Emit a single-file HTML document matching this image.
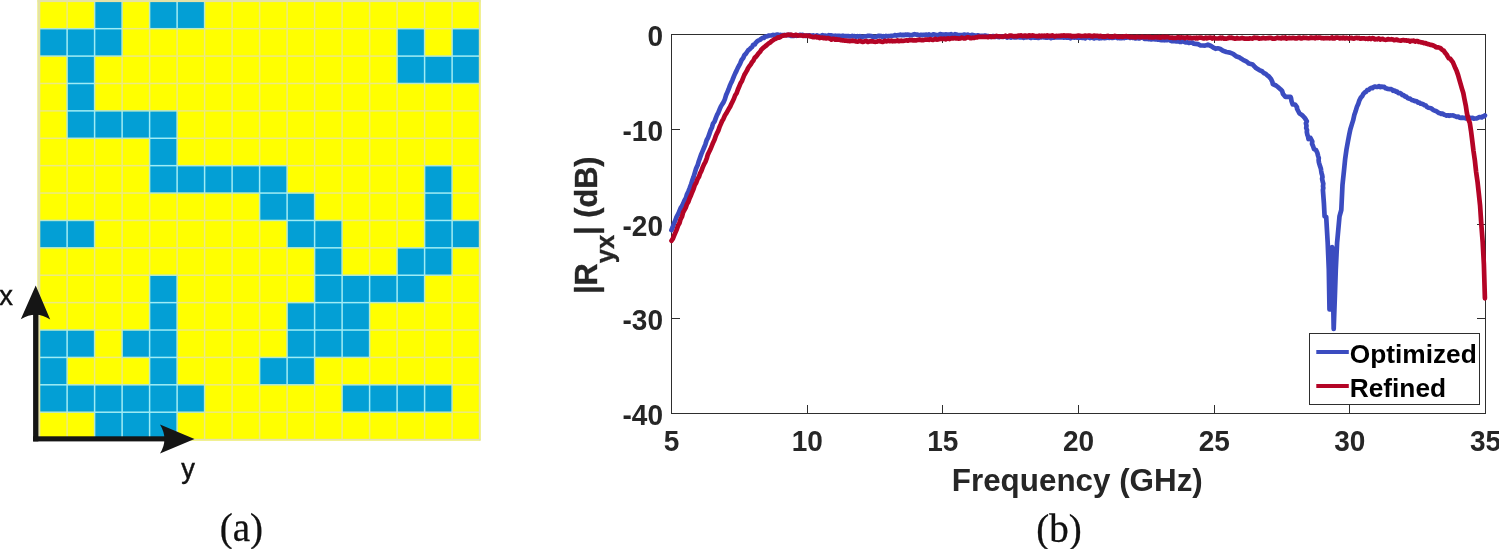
<!DOCTYPE html>
<html><head><meta charset="utf-8"><title>Figure</title>
<style>
html,body{margin:0;padding:0;background:#fff;}
body{width:1499px;height:549px;overflow:hidden;}
svg{display:block;}
.sans{font-family:"Liberation Sans",Arial,Helvetica,sans-serif;}
.serif{font-family:"Liberation Serif","Times New Roman",serif;}
.b{font-weight:bold;}
</style></head><body>
<svg width="1499" height="549" viewBox="0 0 1499 549">
<rect width="1499" height="549" fill="#fff"/>
<g shape-rendering="auto">
<rect x="37.60" y="0" width="442.90" height="440.50" fill="#ffff00"/>
<rect x="94.60" y="1.30" width="27.50" height="27.39" fill="#039fd5"/>
<rect x="149.60" y="1.30" width="27.50" height="27.39" fill="#039fd5"/>
<rect x="177.10" y="1.30" width="27.50" height="27.39" fill="#039fd5"/>
<rect x="39.60" y="28.69" width="27.50" height="27.39" fill="#039fd5"/>
<rect x="67.10" y="28.69" width="27.50" height="27.39" fill="#039fd5"/>
<rect x="94.60" y="28.69" width="27.50" height="27.39" fill="#039fd5"/>
<rect x="397.10" y="28.69" width="27.50" height="27.39" fill="#039fd5"/>
<rect x="452.10" y="28.69" width="27.50" height="27.39" fill="#039fd5"/>
<rect x="67.10" y="56.09" width="27.50" height="27.39" fill="#039fd5"/>
<rect x="397.10" y="56.09" width="27.50" height="27.39" fill="#039fd5"/>
<rect x="424.60" y="56.09" width="27.50" height="27.39" fill="#039fd5"/>
<rect x="452.10" y="56.09" width="27.50" height="27.39" fill="#039fd5"/>
<rect x="67.10" y="83.48" width="27.50" height="27.39" fill="#039fd5"/>
<rect x="67.10" y="110.88" width="27.50" height="27.39" fill="#039fd5"/>
<rect x="94.60" y="110.88" width="27.50" height="27.39" fill="#039fd5"/>
<rect x="122.10" y="110.88" width="27.50" height="27.39" fill="#039fd5"/>
<rect x="149.60" y="110.88" width="27.50" height="27.39" fill="#039fd5"/>
<rect x="149.60" y="138.27" width="27.50" height="27.39" fill="#039fd5"/>
<rect x="149.60" y="165.66" width="27.50" height="27.39" fill="#039fd5"/>
<rect x="177.10" y="165.66" width="27.50" height="27.39" fill="#039fd5"/>
<rect x="204.60" y="165.66" width="27.50" height="27.39" fill="#039fd5"/>
<rect x="232.10" y="165.66" width="27.50" height="27.39" fill="#039fd5"/>
<rect x="259.60" y="165.66" width="27.50" height="27.39" fill="#039fd5"/>
<rect x="424.60" y="165.66" width="27.50" height="27.39" fill="#039fd5"/>
<rect x="259.60" y="193.06" width="27.50" height="27.39" fill="#039fd5"/>
<rect x="287.10" y="193.06" width="27.50" height="27.39" fill="#039fd5"/>
<rect x="424.60" y="193.06" width="27.50" height="27.39" fill="#039fd5"/>
<rect x="39.60" y="220.45" width="27.50" height="27.39" fill="#039fd5"/>
<rect x="67.10" y="220.45" width="27.50" height="27.39" fill="#039fd5"/>
<rect x="287.10" y="220.45" width="27.50" height="27.39" fill="#039fd5"/>
<rect x="314.60" y="220.45" width="27.50" height="27.39" fill="#039fd5"/>
<rect x="424.60" y="220.45" width="27.50" height="27.39" fill="#039fd5"/>
<rect x="452.10" y="220.45" width="27.50" height="27.39" fill="#039fd5"/>
<rect x="314.60" y="247.84" width="27.50" height="27.39" fill="#039fd5"/>
<rect x="397.10" y="247.84" width="27.50" height="27.39" fill="#039fd5"/>
<rect x="424.60" y="247.84" width="27.50" height="27.39" fill="#039fd5"/>
<rect x="149.60" y="275.24" width="27.50" height="27.39" fill="#039fd5"/>
<rect x="314.60" y="275.24" width="27.50" height="27.39" fill="#039fd5"/>
<rect x="342.10" y="275.24" width="27.50" height="27.39" fill="#039fd5"/>
<rect x="369.60" y="275.24" width="27.50" height="27.39" fill="#039fd5"/>
<rect x="397.10" y="275.24" width="27.50" height="27.39" fill="#039fd5"/>
<rect x="149.60" y="302.63" width="27.50" height="27.39" fill="#039fd5"/>
<rect x="287.10" y="302.63" width="27.50" height="27.39" fill="#039fd5"/>
<rect x="314.60" y="302.63" width="27.50" height="27.39" fill="#039fd5"/>
<rect x="342.10" y="302.63" width="27.50" height="27.39" fill="#039fd5"/>
<rect x="39.60" y="330.03" width="27.50" height="27.39" fill="#039fd5"/>
<rect x="67.10" y="330.03" width="27.50" height="27.39" fill="#039fd5"/>
<rect x="122.10" y="330.03" width="27.50" height="27.39" fill="#039fd5"/>
<rect x="149.60" y="330.03" width="27.50" height="27.39" fill="#039fd5"/>
<rect x="287.10" y="330.03" width="27.50" height="27.39" fill="#039fd5"/>
<rect x="314.60" y="330.03" width="27.50" height="27.39" fill="#039fd5"/>
<rect x="342.10" y="330.03" width="27.50" height="27.39" fill="#039fd5"/>
<rect x="39.60" y="357.42" width="27.50" height="27.39" fill="#039fd5"/>
<rect x="149.60" y="357.42" width="27.50" height="27.39" fill="#039fd5"/>
<rect x="259.60" y="357.42" width="27.50" height="27.39" fill="#039fd5"/>
<rect x="287.10" y="357.42" width="27.50" height="27.39" fill="#039fd5"/>
<rect x="39.60" y="384.81" width="27.50" height="27.39" fill="#039fd5"/>
<rect x="67.10" y="384.81" width="27.50" height="27.39" fill="#039fd5"/>
<rect x="94.60" y="384.81" width="27.50" height="27.39" fill="#039fd5"/>
<rect x="122.10" y="384.81" width="27.50" height="27.39" fill="#039fd5"/>
<rect x="149.60" y="384.81" width="27.50" height="27.39" fill="#039fd5"/>
<rect x="177.10" y="384.81" width="27.50" height="27.39" fill="#039fd5"/>
<rect x="342.10" y="384.81" width="27.50" height="27.39" fill="#039fd5"/>
<rect x="369.60" y="384.81" width="27.50" height="27.39" fill="#039fd5"/>
<rect x="397.10" y="384.81" width="27.50" height="27.39" fill="#039fd5"/>
<rect x="424.60" y="384.81" width="27.50" height="27.39" fill="#039fd5"/>
<rect x="94.60" y="412.21" width="27.50" height="27.39" fill="#039fd5"/>
<rect x="122.10" y="412.21" width="27.50" height="27.39" fill="#039fd5"/>
<rect x="149.60" y="412.21" width="27.50" height="27.39" fill="#039fd5"/>
<rect x="66.35" y="1.30" width="1.5" height="27.39" fill="#ebe982"/>
<rect x="66.35" y="28.69" width="1.5" height="27.39" fill="#9fecf6"/>
<rect x="66.35" y="56.09" width="1.5" height="27.39" fill="#b9e8cc"/>
<rect x="66.35" y="83.48" width="1.5" height="27.39" fill="#b9e8cc"/>
<rect x="66.35" y="110.88" width="1.5" height="27.39" fill="#b9e8cc"/>
<rect x="66.35" y="138.27" width="1.5" height="27.39" fill="#ebe982"/>
<rect x="66.35" y="165.66" width="1.5" height="27.39" fill="#ebe982"/>
<rect x="66.35" y="193.06" width="1.5" height="27.39" fill="#ebe982"/>
<rect x="66.35" y="220.45" width="1.5" height="27.39" fill="#9fecf6"/>
<rect x="66.35" y="247.84" width="1.5" height="27.39" fill="#ebe982"/>
<rect x="66.35" y="275.24" width="1.5" height="27.39" fill="#ebe982"/>
<rect x="66.35" y="302.63" width="1.5" height="27.39" fill="#ebe982"/>
<rect x="66.35" y="330.03" width="1.5" height="27.39" fill="#9fecf6"/>
<rect x="66.35" y="357.42" width="1.5" height="27.39" fill="#b9e8cc"/>
<rect x="66.35" y="384.81" width="1.5" height="27.39" fill="#9fecf6"/>
<rect x="66.35" y="412.21" width="1.5" height="27.39" fill="#ebe982"/>
<rect x="93.85" y="1.30" width="1.5" height="27.39" fill="#b9e8cc"/>
<rect x="93.85" y="28.69" width="1.5" height="27.39" fill="#9fecf6"/>
<rect x="93.85" y="56.09" width="1.5" height="27.39" fill="#b9e8cc"/>
<rect x="93.85" y="83.48" width="1.5" height="27.39" fill="#b9e8cc"/>
<rect x="93.85" y="110.88" width="1.5" height="27.39" fill="#9fecf6"/>
<rect x="93.85" y="138.27" width="1.5" height="27.39" fill="#ebe982"/>
<rect x="93.85" y="165.66" width="1.5" height="27.39" fill="#ebe982"/>
<rect x="93.85" y="193.06" width="1.5" height="27.39" fill="#ebe982"/>
<rect x="93.85" y="220.45" width="1.5" height="27.39" fill="#b9e8cc"/>
<rect x="93.85" y="247.84" width="1.5" height="27.39" fill="#ebe982"/>
<rect x="93.85" y="275.24" width="1.5" height="27.39" fill="#ebe982"/>
<rect x="93.85" y="302.63" width="1.5" height="27.39" fill="#ebe982"/>
<rect x="93.85" y="330.03" width="1.5" height="27.39" fill="#b9e8cc"/>
<rect x="93.85" y="357.42" width="1.5" height="27.39" fill="#ebe982"/>
<rect x="93.85" y="384.81" width="1.5" height="27.39" fill="#9fecf6"/>
<rect x="93.85" y="412.21" width="1.5" height="27.39" fill="#b9e8cc"/>
<rect x="121.35" y="1.30" width="1.5" height="27.39" fill="#b9e8cc"/>
<rect x="121.35" y="28.69" width="1.5" height="27.39" fill="#b9e8cc"/>
<rect x="121.35" y="56.09" width="1.5" height="27.39" fill="#ebe982"/>
<rect x="121.35" y="83.48" width="1.5" height="27.39" fill="#ebe982"/>
<rect x="121.35" y="110.88" width="1.5" height="27.39" fill="#9fecf6"/>
<rect x="121.35" y="138.27" width="1.5" height="27.39" fill="#ebe982"/>
<rect x="121.35" y="165.66" width="1.5" height="27.39" fill="#ebe982"/>
<rect x="121.35" y="193.06" width="1.5" height="27.39" fill="#ebe982"/>
<rect x="121.35" y="220.45" width="1.5" height="27.39" fill="#ebe982"/>
<rect x="121.35" y="247.84" width="1.5" height="27.39" fill="#ebe982"/>
<rect x="121.35" y="275.24" width="1.5" height="27.39" fill="#ebe982"/>
<rect x="121.35" y="302.63" width="1.5" height="27.39" fill="#ebe982"/>
<rect x="121.35" y="330.03" width="1.5" height="27.39" fill="#b9e8cc"/>
<rect x="121.35" y="357.42" width="1.5" height="27.39" fill="#ebe982"/>
<rect x="121.35" y="384.81" width="1.5" height="27.39" fill="#9fecf6"/>
<rect x="121.35" y="412.21" width="1.5" height="27.39" fill="#9fecf6"/>
<rect x="148.85" y="1.30" width="1.5" height="27.39" fill="#b9e8cc"/>
<rect x="148.85" y="28.69" width="1.5" height="27.39" fill="#ebe982"/>
<rect x="148.85" y="56.09" width="1.5" height="27.39" fill="#ebe982"/>
<rect x="148.85" y="83.48" width="1.5" height="27.39" fill="#ebe982"/>
<rect x="148.85" y="110.88" width="1.5" height="27.39" fill="#9fecf6"/>
<rect x="148.85" y="138.27" width="1.5" height="27.39" fill="#b9e8cc"/>
<rect x="148.85" y="165.66" width="1.5" height="27.39" fill="#b9e8cc"/>
<rect x="148.85" y="193.06" width="1.5" height="27.39" fill="#ebe982"/>
<rect x="148.85" y="220.45" width="1.5" height="27.39" fill="#ebe982"/>
<rect x="148.85" y="247.84" width="1.5" height="27.39" fill="#ebe982"/>
<rect x="148.85" y="275.24" width="1.5" height="27.39" fill="#b9e8cc"/>
<rect x="148.85" y="302.63" width="1.5" height="27.39" fill="#b9e8cc"/>
<rect x="148.85" y="330.03" width="1.5" height="27.39" fill="#9fecf6"/>
<rect x="148.85" y="357.42" width="1.5" height="27.39" fill="#b9e8cc"/>
<rect x="148.85" y="384.81" width="1.5" height="27.39" fill="#9fecf6"/>
<rect x="148.85" y="412.21" width="1.5" height="27.39" fill="#9fecf6"/>
<rect x="176.35" y="1.30" width="1.5" height="27.39" fill="#9fecf6"/>
<rect x="176.35" y="28.69" width="1.5" height="27.39" fill="#ebe982"/>
<rect x="176.35" y="56.09" width="1.5" height="27.39" fill="#ebe982"/>
<rect x="176.35" y="83.48" width="1.5" height="27.39" fill="#ebe982"/>
<rect x="176.35" y="110.88" width="1.5" height="27.39" fill="#b9e8cc"/>
<rect x="176.35" y="138.27" width="1.5" height="27.39" fill="#b9e8cc"/>
<rect x="176.35" y="165.66" width="1.5" height="27.39" fill="#9fecf6"/>
<rect x="176.35" y="193.06" width="1.5" height="27.39" fill="#ebe982"/>
<rect x="176.35" y="220.45" width="1.5" height="27.39" fill="#ebe982"/>
<rect x="176.35" y="247.84" width="1.5" height="27.39" fill="#ebe982"/>
<rect x="176.35" y="275.24" width="1.5" height="27.39" fill="#b9e8cc"/>
<rect x="176.35" y="302.63" width="1.5" height="27.39" fill="#b9e8cc"/>
<rect x="176.35" y="330.03" width="1.5" height="27.39" fill="#b9e8cc"/>
<rect x="176.35" y="357.42" width="1.5" height="27.39" fill="#b9e8cc"/>
<rect x="176.35" y="384.81" width="1.5" height="27.39" fill="#9fecf6"/>
<rect x="176.35" y="412.21" width="1.5" height="27.39" fill="#b9e8cc"/>
<rect x="203.85" y="1.30" width="1.5" height="27.39" fill="#b9e8cc"/>
<rect x="203.85" y="28.69" width="1.5" height="27.39" fill="#ebe982"/>
<rect x="203.85" y="56.09" width="1.5" height="27.39" fill="#ebe982"/>
<rect x="203.85" y="83.48" width="1.5" height="27.39" fill="#ebe982"/>
<rect x="203.85" y="110.88" width="1.5" height="27.39" fill="#ebe982"/>
<rect x="203.85" y="138.27" width="1.5" height="27.39" fill="#ebe982"/>
<rect x="203.85" y="165.66" width="1.5" height="27.39" fill="#9fecf6"/>
<rect x="203.85" y="193.06" width="1.5" height="27.39" fill="#ebe982"/>
<rect x="203.85" y="220.45" width="1.5" height="27.39" fill="#ebe982"/>
<rect x="203.85" y="247.84" width="1.5" height="27.39" fill="#ebe982"/>
<rect x="203.85" y="275.24" width="1.5" height="27.39" fill="#ebe982"/>
<rect x="203.85" y="302.63" width="1.5" height="27.39" fill="#ebe982"/>
<rect x="203.85" y="330.03" width="1.5" height="27.39" fill="#ebe982"/>
<rect x="203.85" y="357.42" width="1.5" height="27.39" fill="#ebe982"/>
<rect x="203.85" y="384.81" width="1.5" height="27.39" fill="#b9e8cc"/>
<rect x="203.85" y="412.21" width="1.5" height="27.39" fill="#ebe982"/>
<rect x="231.35" y="1.30" width="1.5" height="27.39" fill="#ebe982"/>
<rect x="231.35" y="28.69" width="1.5" height="27.39" fill="#ebe982"/>
<rect x="231.35" y="56.09" width="1.5" height="27.39" fill="#ebe982"/>
<rect x="231.35" y="83.48" width="1.5" height="27.39" fill="#ebe982"/>
<rect x="231.35" y="110.88" width="1.5" height="27.39" fill="#ebe982"/>
<rect x="231.35" y="138.27" width="1.5" height="27.39" fill="#ebe982"/>
<rect x="231.35" y="165.66" width="1.5" height="27.39" fill="#9fecf6"/>
<rect x="231.35" y="193.06" width="1.5" height="27.39" fill="#ebe982"/>
<rect x="231.35" y="220.45" width="1.5" height="27.39" fill="#ebe982"/>
<rect x="231.35" y="247.84" width="1.5" height="27.39" fill="#ebe982"/>
<rect x="231.35" y="275.24" width="1.5" height="27.39" fill="#ebe982"/>
<rect x="231.35" y="302.63" width="1.5" height="27.39" fill="#ebe982"/>
<rect x="231.35" y="330.03" width="1.5" height="27.39" fill="#ebe982"/>
<rect x="231.35" y="357.42" width="1.5" height="27.39" fill="#ebe982"/>
<rect x="231.35" y="384.81" width="1.5" height="27.39" fill="#ebe982"/>
<rect x="231.35" y="412.21" width="1.5" height="27.39" fill="#ebe982"/>
<rect x="258.85" y="1.30" width="1.5" height="27.39" fill="#ebe982"/>
<rect x="258.85" y="28.69" width="1.5" height="27.39" fill="#ebe982"/>
<rect x="258.85" y="56.09" width="1.5" height="27.39" fill="#ebe982"/>
<rect x="258.85" y="83.48" width="1.5" height="27.39" fill="#ebe982"/>
<rect x="258.85" y="110.88" width="1.5" height="27.39" fill="#ebe982"/>
<rect x="258.85" y="138.27" width="1.5" height="27.39" fill="#ebe982"/>
<rect x="258.85" y="165.66" width="1.5" height="27.39" fill="#9fecf6"/>
<rect x="258.85" y="193.06" width="1.5" height="27.39" fill="#b9e8cc"/>
<rect x="258.85" y="220.45" width="1.5" height="27.39" fill="#ebe982"/>
<rect x="258.85" y="247.84" width="1.5" height="27.39" fill="#ebe982"/>
<rect x="258.85" y="275.24" width="1.5" height="27.39" fill="#ebe982"/>
<rect x="258.85" y="302.63" width="1.5" height="27.39" fill="#ebe982"/>
<rect x="258.85" y="330.03" width="1.5" height="27.39" fill="#ebe982"/>
<rect x="258.85" y="357.42" width="1.5" height="27.39" fill="#b9e8cc"/>
<rect x="258.85" y="384.81" width="1.5" height="27.39" fill="#ebe982"/>
<rect x="258.85" y="412.21" width="1.5" height="27.39" fill="#ebe982"/>
<rect x="286.35" y="1.30" width="1.5" height="27.39" fill="#ebe982"/>
<rect x="286.35" y="28.69" width="1.5" height="27.39" fill="#ebe982"/>
<rect x="286.35" y="56.09" width="1.5" height="27.39" fill="#ebe982"/>
<rect x="286.35" y="83.48" width="1.5" height="27.39" fill="#ebe982"/>
<rect x="286.35" y="110.88" width="1.5" height="27.39" fill="#ebe982"/>
<rect x="286.35" y="138.27" width="1.5" height="27.39" fill="#ebe982"/>
<rect x="286.35" y="165.66" width="1.5" height="27.39" fill="#b9e8cc"/>
<rect x="286.35" y="193.06" width="1.5" height="27.39" fill="#9fecf6"/>
<rect x="286.35" y="220.45" width="1.5" height="27.39" fill="#b9e8cc"/>
<rect x="286.35" y="247.84" width="1.5" height="27.39" fill="#ebe982"/>
<rect x="286.35" y="275.24" width="1.5" height="27.39" fill="#ebe982"/>
<rect x="286.35" y="302.63" width="1.5" height="27.39" fill="#b9e8cc"/>
<rect x="286.35" y="330.03" width="1.5" height="27.39" fill="#b9e8cc"/>
<rect x="286.35" y="357.42" width="1.5" height="27.39" fill="#9fecf6"/>
<rect x="286.35" y="384.81" width="1.5" height="27.39" fill="#ebe982"/>
<rect x="286.35" y="412.21" width="1.5" height="27.39" fill="#ebe982"/>
<rect x="313.85" y="1.30" width="1.5" height="27.39" fill="#ebe982"/>
<rect x="313.85" y="28.69" width="1.5" height="27.39" fill="#ebe982"/>
<rect x="313.85" y="56.09" width="1.5" height="27.39" fill="#ebe982"/>
<rect x="313.85" y="83.48" width="1.5" height="27.39" fill="#ebe982"/>
<rect x="313.85" y="110.88" width="1.5" height="27.39" fill="#ebe982"/>
<rect x="313.85" y="138.27" width="1.5" height="27.39" fill="#ebe982"/>
<rect x="313.85" y="165.66" width="1.5" height="27.39" fill="#ebe982"/>
<rect x="313.85" y="193.06" width="1.5" height="27.39" fill="#b9e8cc"/>
<rect x="313.85" y="220.45" width="1.5" height="27.39" fill="#9fecf6"/>
<rect x="313.85" y="247.84" width="1.5" height="27.39" fill="#b9e8cc"/>
<rect x="313.85" y="275.24" width="1.5" height="27.39" fill="#b9e8cc"/>
<rect x="313.85" y="302.63" width="1.5" height="27.39" fill="#9fecf6"/>
<rect x="313.85" y="330.03" width="1.5" height="27.39" fill="#9fecf6"/>
<rect x="313.85" y="357.42" width="1.5" height="27.39" fill="#b9e8cc"/>
<rect x="313.85" y="384.81" width="1.5" height="27.39" fill="#ebe982"/>
<rect x="313.85" y="412.21" width="1.5" height="27.39" fill="#ebe982"/>
<rect x="341.35" y="1.30" width="1.5" height="27.39" fill="#ebe982"/>
<rect x="341.35" y="28.69" width="1.5" height="27.39" fill="#ebe982"/>
<rect x="341.35" y="56.09" width="1.5" height="27.39" fill="#ebe982"/>
<rect x="341.35" y="83.48" width="1.5" height="27.39" fill="#ebe982"/>
<rect x="341.35" y="110.88" width="1.5" height="27.39" fill="#ebe982"/>
<rect x="341.35" y="138.27" width="1.5" height="27.39" fill="#ebe982"/>
<rect x="341.35" y="165.66" width="1.5" height="27.39" fill="#ebe982"/>
<rect x="341.35" y="193.06" width="1.5" height="27.39" fill="#ebe982"/>
<rect x="341.35" y="220.45" width="1.5" height="27.39" fill="#b9e8cc"/>
<rect x="341.35" y="247.84" width="1.5" height="27.39" fill="#b9e8cc"/>
<rect x="341.35" y="275.24" width="1.5" height="27.39" fill="#9fecf6"/>
<rect x="341.35" y="302.63" width="1.5" height="27.39" fill="#9fecf6"/>
<rect x="341.35" y="330.03" width="1.5" height="27.39" fill="#9fecf6"/>
<rect x="341.35" y="357.42" width="1.5" height="27.39" fill="#ebe982"/>
<rect x="341.35" y="384.81" width="1.5" height="27.39" fill="#b9e8cc"/>
<rect x="341.35" y="412.21" width="1.5" height="27.39" fill="#ebe982"/>
<rect x="368.85" y="1.30" width="1.5" height="27.39" fill="#ebe982"/>
<rect x="368.85" y="28.69" width="1.5" height="27.39" fill="#ebe982"/>
<rect x="368.85" y="56.09" width="1.5" height="27.39" fill="#ebe982"/>
<rect x="368.85" y="83.48" width="1.5" height="27.39" fill="#ebe982"/>
<rect x="368.85" y="110.88" width="1.5" height="27.39" fill="#ebe982"/>
<rect x="368.85" y="138.27" width="1.5" height="27.39" fill="#ebe982"/>
<rect x="368.85" y="165.66" width="1.5" height="27.39" fill="#ebe982"/>
<rect x="368.85" y="193.06" width="1.5" height="27.39" fill="#ebe982"/>
<rect x="368.85" y="220.45" width="1.5" height="27.39" fill="#ebe982"/>
<rect x="368.85" y="247.84" width="1.5" height="27.39" fill="#ebe982"/>
<rect x="368.85" y="275.24" width="1.5" height="27.39" fill="#9fecf6"/>
<rect x="368.85" y="302.63" width="1.5" height="27.39" fill="#b9e8cc"/>
<rect x="368.85" y="330.03" width="1.5" height="27.39" fill="#b9e8cc"/>
<rect x="368.85" y="357.42" width="1.5" height="27.39" fill="#ebe982"/>
<rect x="368.85" y="384.81" width="1.5" height="27.39" fill="#9fecf6"/>
<rect x="368.85" y="412.21" width="1.5" height="27.39" fill="#ebe982"/>
<rect x="396.35" y="1.30" width="1.5" height="27.39" fill="#ebe982"/>
<rect x="396.35" y="28.69" width="1.5" height="27.39" fill="#b9e8cc"/>
<rect x="396.35" y="56.09" width="1.5" height="27.39" fill="#b9e8cc"/>
<rect x="396.35" y="83.48" width="1.5" height="27.39" fill="#ebe982"/>
<rect x="396.35" y="110.88" width="1.5" height="27.39" fill="#ebe982"/>
<rect x="396.35" y="138.27" width="1.5" height="27.39" fill="#ebe982"/>
<rect x="396.35" y="165.66" width="1.5" height="27.39" fill="#ebe982"/>
<rect x="396.35" y="193.06" width="1.5" height="27.39" fill="#ebe982"/>
<rect x="396.35" y="220.45" width="1.5" height="27.39" fill="#ebe982"/>
<rect x="396.35" y="247.84" width="1.5" height="27.39" fill="#b9e8cc"/>
<rect x="396.35" y="275.24" width="1.5" height="27.39" fill="#9fecf6"/>
<rect x="396.35" y="302.63" width="1.5" height="27.39" fill="#ebe982"/>
<rect x="396.35" y="330.03" width="1.5" height="27.39" fill="#ebe982"/>
<rect x="396.35" y="357.42" width="1.5" height="27.39" fill="#ebe982"/>
<rect x="396.35" y="384.81" width="1.5" height="27.39" fill="#9fecf6"/>
<rect x="396.35" y="412.21" width="1.5" height="27.39" fill="#ebe982"/>
<rect x="423.85" y="1.30" width="1.5" height="27.39" fill="#ebe982"/>
<rect x="423.85" y="28.69" width="1.5" height="27.39" fill="#b9e8cc"/>
<rect x="423.85" y="56.09" width="1.5" height="27.39" fill="#9fecf6"/>
<rect x="423.85" y="83.48" width="1.5" height="27.39" fill="#ebe982"/>
<rect x="423.85" y="110.88" width="1.5" height="27.39" fill="#ebe982"/>
<rect x="423.85" y="138.27" width="1.5" height="27.39" fill="#ebe982"/>
<rect x="423.85" y="165.66" width="1.5" height="27.39" fill="#b9e8cc"/>
<rect x="423.85" y="193.06" width="1.5" height="27.39" fill="#b9e8cc"/>
<rect x="423.85" y="220.45" width="1.5" height="27.39" fill="#b9e8cc"/>
<rect x="423.85" y="247.84" width="1.5" height="27.39" fill="#9fecf6"/>
<rect x="423.85" y="275.24" width="1.5" height="27.39" fill="#b9e8cc"/>
<rect x="423.85" y="302.63" width="1.5" height="27.39" fill="#ebe982"/>
<rect x="423.85" y="330.03" width="1.5" height="27.39" fill="#ebe982"/>
<rect x="423.85" y="357.42" width="1.5" height="27.39" fill="#ebe982"/>
<rect x="423.85" y="384.81" width="1.5" height="27.39" fill="#9fecf6"/>
<rect x="423.85" y="412.21" width="1.5" height="27.39" fill="#ebe982"/>
<rect x="451.35" y="1.30" width="1.5" height="27.39" fill="#ebe982"/>
<rect x="451.35" y="28.69" width="1.5" height="27.39" fill="#b9e8cc"/>
<rect x="451.35" y="56.09" width="1.5" height="27.39" fill="#9fecf6"/>
<rect x="451.35" y="83.48" width="1.5" height="27.39" fill="#ebe982"/>
<rect x="451.35" y="110.88" width="1.5" height="27.39" fill="#ebe982"/>
<rect x="451.35" y="138.27" width="1.5" height="27.39" fill="#ebe982"/>
<rect x="451.35" y="165.66" width="1.5" height="27.39" fill="#b9e8cc"/>
<rect x="451.35" y="193.06" width="1.5" height="27.39" fill="#b9e8cc"/>
<rect x="451.35" y="220.45" width="1.5" height="27.39" fill="#9fecf6"/>
<rect x="451.35" y="247.84" width="1.5" height="27.39" fill="#b9e8cc"/>
<rect x="451.35" y="275.24" width="1.5" height="27.39" fill="#ebe982"/>
<rect x="451.35" y="302.63" width="1.5" height="27.39" fill="#ebe982"/>
<rect x="451.35" y="330.03" width="1.5" height="27.39" fill="#ebe982"/>
<rect x="451.35" y="357.42" width="1.5" height="27.39" fill="#ebe982"/>
<rect x="451.35" y="384.81" width="1.5" height="27.39" fill="#b9e8cc"/>
<rect x="451.35" y="412.21" width="1.5" height="27.39" fill="#ebe982"/>
<rect x="39.60" y="27.94" width="27.50" height="1.5" fill="#b9e8cc"/>
<rect x="67.10" y="27.94" width="27.50" height="1.5" fill="#b9e8cc"/>
<rect x="94.60" y="27.94" width="27.50" height="1.5" fill="#9fecf6"/>
<rect x="122.10" y="27.94" width="27.50" height="1.5" fill="#ebe982"/>
<rect x="149.60" y="27.94" width="27.50" height="1.5" fill="#b9e8cc"/>
<rect x="177.10" y="27.94" width="27.50" height="1.5" fill="#b9e8cc"/>
<rect x="204.60" y="27.94" width="27.50" height="1.5" fill="#ebe982"/>
<rect x="232.10" y="27.94" width="27.50" height="1.5" fill="#ebe982"/>
<rect x="259.60" y="27.94" width="27.50" height="1.5" fill="#ebe982"/>
<rect x="287.10" y="27.94" width="27.50" height="1.5" fill="#ebe982"/>
<rect x="314.60" y="27.94" width="27.50" height="1.5" fill="#ebe982"/>
<rect x="342.10" y="27.94" width="27.50" height="1.5" fill="#ebe982"/>
<rect x="369.60" y="27.94" width="27.50" height="1.5" fill="#ebe982"/>
<rect x="397.10" y="27.94" width="27.50" height="1.5" fill="#b9e8cc"/>
<rect x="424.60" y="27.94" width="27.50" height="1.5" fill="#ebe982"/>
<rect x="452.10" y="27.94" width="27.50" height="1.5" fill="#b9e8cc"/>
<rect x="39.60" y="55.34" width="27.50" height="1.5" fill="#b9e8cc"/>
<rect x="67.10" y="55.34" width="27.50" height="1.5" fill="#9fecf6"/>
<rect x="94.60" y="55.34" width="27.50" height="1.5" fill="#b9e8cc"/>
<rect x="122.10" y="55.34" width="27.50" height="1.5" fill="#ebe982"/>
<rect x="149.60" y="55.34" width="27.50" height="1.5" fill="#ebe982"/>
<rect x="177.10" y="55.34" width="27.50" height="1.5" fill="#ebe982"/>
<rect x="204.60" y="55.34" width="27.50" height="1.5" fill="#ebe982"/>
<rect x="232.10" y="55.34" width="27.50" height="1.5" fill="#ebe982"/>
<rect x="259.60" y="55.34" width="27.50" height="1.5" fill="#ebe982"/>
<rect x="287.10" y="55.34" width="27.50" height="1.5" fill="#ebe982"/>
<rect x="314.60" y="55.34" width="27.50" height="1.5" fill="#ebe982"/>
<rect x="342.10" y="55.34" width="27.50" height="1.5" fill="#ebe982"/>
<rect x="369.60" y="55.34" width="27.50" height="1.5" fill="#ebe982"/>
<rect x="397.10" y="55.34" width="27.50" height="1.5" fill="#9fecf6"/>
<rect x="424.60" y="55.34" width="27.50" height="1.5" fill="#b9e8cc"/>
<rect x="452.10" y="55.34" width="27.50" height="1.5" fill="#9fecf6"/>
<rect x="39.60" y="82.73" width="27.50" height="1.5" fill="#ebe982"/>
<rect x="67.10" y="82.73" width="27.50" height="1.5" fill="#9fecf6"/>
<rect x="94.60" y="82.73" width="27.50" height="1.5" fill="#ebe982"/>
<rect x="122.10" y="82.73" width="27.50" height="1.5" fill="#ebe982"/>
<rect x="149.60" y="82.73" width="27.50" height="1.5" fill="#ebe982"/>
<rect x="177.10" y="82.73" width="27.50" height="1.5" fill="#ebe982"/>
<rect x="204.60" y="82.73" width="27.50" height="1.5" fill="#ebe982"/>
<rect x="232.10" y="82.73" width="27.50" height="1.5" fill="#ebe982"/>
<rect x="259.60" y="82.73" width="27.50" height="1.5" fill="#ebe982"/>
<rect x="287.10" y="82.73" width="27.50" height="1.5" fill="#ebe982"/>
<rect x="314.60" y="82.73" width="27.50" height="1.5" fill="#ebe982"/>
<rect x="342.10" y="82.73" width="27.50" height="1.5" fill="#ebe982"/>
<rect x="369.60" y="82.73" width="27.50" height="1.5" fill="#ebe982"/>
<rect x="397.10" y="82.73" width="27.50" height="1.5" fill="#b9e8cc"/>
<rect x="424.60" y="82.73" width="27.50" height="1.5" fill="#b9e8cc"/>
<rect x="452.10" y="82.73" width="27.50" height="1.5" fill="#b9e8cc"/>
<rect x="39.60" y="110.12" width="27.50" height="1.5" fill="#ebe982"/>
<rect x="67.10" y="110.12" width="27.50" height="1.5" fill="#9fecf6"/>
<rect x="94.60" y="110.12" width="27.50" height="1.5" fill="#b9e8cc"/>
<rect x="122.10" y="110.12" width="27.50" height="1.5" fill="#b9e8cc"/>
<rect x="149.60" y="110.12" width="27.50" height="1.5" fill="#b9e8cc"/>
<rect x="177.10" y="110.12" width="27.50" height="1.5" fill="#ebe982"/>
<rect x="204.60" y="110.12" width="27.50" height="1.5" fill="#ebe982"/>
<rect x="232.10" y="110.12" width="27.50" height="1.5" fill="#ebe982"/>
<rect x="259.60" y="110.12" width="27.50" height="1.5" fill="#ebe982"/>
<rect x="287.10" y="110.12" width="27.50" height="1.5" fill="#ebe982"/>
<rect x="314.60" y="110.12" width="27.50" height="1.5" fill="#ebe982"/>
<rect x="342.10" y="110.12" width="27.50" height="1.5" fill="#ebe982"/>
<rect x="369.60" y="110.12" width="27.50" height="1.5" fill="#ebe982"/>
<rect x="397.10" y="110.12" width="27.50" height="1.5" fill="#ebe982"/>
<rect x="424.60" y="110.12" width="27.50" height="1.5" fill="#ebe982"/>
<rect x="452.10" y="110.12" width="27.50" height="1.5" fill="#ebe982"/>
<rect x="39.60" y="137.52" width="27.50" height="1.5" fill="#ebe982"/>
<rect x="67.10" y="137.52" width="27.50" height="1.5" fill="#b9e8cc"/>
<rect x="94.60" y="137.52" width="27.50" height="1.5" fill="#b9e8cc"/>
<rect x="122.10" y="137.52" width="27.50" height="1.5" fill="#b9e8cc"/>
<rect x="149.60" y="137.52" width="27.50" height="1.5" fill="#9fecf6"/>
<rect x="177.10" y="137.52" width="27.50" height="1.5" fill="#ebe982"/>
<rect x="204.60" y="137.52" width="27.50" height="1.5" fill="#ebe982"/>
<rect x="232.10" y="137.52" width="27.50" height="1.5" fill="#ebe982"/>
<rect x="259.60" y="137.52" width="27.50" height="1.5" fill="#ebe982"/>
<rect x="287.10" y="137.52" width="27.50" height="1.5" fill="#ebe982"/>
<rect x="314.60" y="137.52" width="27.50" height="1.5" fill="#ebe982"/>
<rect x="342.10" y="137.52" width="27.50" height="1.5" fill="#ebe982"/>
<rect x="369.60" y="137.52" width="27.50" height="1.5" fill="#ebe982"/>
<rect x="397.10" y="137.52" width="27.50" height="1.5" fill="#ebe982"/>
<rect x="424.60" y="137.52" width="27.50" height="1.5" fill="#ebe982"/>
<rect x="452.10" y="137.52" width="27.50" height="1.5" fill="#ebe982"/>
<rect x="39.60" y="164.91" width="27.50" height="1.5" fill="#ebe982"/>
<rect x="67.10" y="164.91" width="27.50" height="1.5" fill="#ebe982"/>
<rect x="94.60" y="164.91" width="27.50" height="1.5" fill="#ebe982"/>
<rect x="122.10" y="164.91" width="27.50" height="1.5" fill="#ebe982"/>
<rect x="149.60" y="164.91" width="27.50" height="1.5" fill="#9fecf6"/>
<rect x="177.10" y="164.91" width="27.50" height="1.5" fill="#b9e8cc"/>
<rect x="204.60" y="164.91" width="27.50" height="1.5" fill="#b9e8cc"/>
<rect x="232.10" y="164.91" width="27.50" height="1.5" fill="#b9e8cc"/>
<rect x="259.60" y="164.91" width="27.50" height="1.5" fill="#b9e8cc"/>
<rect x="287.10" y="164.91" width="27.50" height="1.5" fill="#ebe982"/>
<rect x="314.60" y="164.91" width="27.50" height="1.5" fill="#ebe982"/>
<rect x="342.10" y="164.91" width="27.50" height="1.5" fill="#ebe982"/>
<rect x="369.60" y="164.91" width="27.50" height="1.5" fill="#ebe982"/>
<rect x="397.10" y="164.91" width="27.50" height="1.5" fill="#ebe982"/>
<rect x="424.60" y="164.91" width="27.50" height="1.5" fill="#b9e8cc"/>
<rect x="452.10" y="164.91" width="27.50" height="1.5" fill="#ebe982"/>
<rect x="39.60" y="192.31" width="27.50" height="1.5" fill="#ebe982"/>
<rect x="67.10" y="192.31" width="27.50" height="1.5" fill="#ebe982"/>
<rect x="94.60" y="192.31" width="27.50" height="1.5" fill="#ebe982"/>
<rect x="122.10" y="192.31" width="27.50" height="1.5" fill="#ebe982"/>
<rect x="149.60" y="192.31" width="27.50" height="1.5" fill="#b9e8cc"/>
<rect x="177.10" y="192.31" width="27.50" height="1.5" fill="#b9e8cc"/>
<rect x="204.60" y="192.31" width="27.50" height="1.5" fill="#b9e8cc"/>
<rect x="232.10" y="192.31" width="27.50" height="1.5" fill="#b9e8cc"/>
<rect x="259.60" y="192.31" width="27.50" height="1.5" fill="#9fecf6"/>
<rect x="287.10" y="192.31" width="27.50" height="1.5" fill="#b9e8cc"/>
<rect x="314.60" y="192.31" width="27.50" height="1.5" fill="#ebe982"/>
<rect x="342.10" y="192.31" width="27.50" height="1.5" fill="#ebe982"/>
<rect x="369.60" y="192.31" width="27.50" height="1.5" fill="#ebe982"/>
<rect x="397.10" y="192.31" width="27.50" height="1.5" fill="#ebe982"/>
<rect x="424.60" y="192.31" width="27.50" height="1.5" fill="#9fecf6"/>
<rect x="452.10" y="192.31" width="27.50" height="1.5" fill="#ebe982"/>
<rect x="39.60" y="219.70" width="27.50" height="1.5" fill="#b9e8cc"/>
<rect x="67.10" y="219.70" width="27.50" height="1.5" fill="#b9e8cc"/>
<rect x="94.60" y="219.70" width="27.50" height="1.5" fill="#ebe982"/>
<rect x="122.10" y="219.70" width="27.50" height="1.5" fill="#ebe982"/>
<rect x="149.60" y="219.70" width="27.50" height="1.5" fill="#ebe982"/>
<rect x="177.10" y="219.70" width="27.50" height="1.5" fill="#ebe982"/>
<rect x="204.60" y="219.70" width="27.50" height="1.5" fill="#ebe982"/>
<rect x="232.10" y="219.70" width="27.50" height="1.5" fill="#ebe982"/>
<rect x="259.60" y="219.70" width="27.50" height="1.5" fill="#b9e8cc"/>
<rect x="287.10" y="219.70" width="27.50" height="1.5" fill="#9fecf6"/>
<rect x="314.60" y="219.70" width="27.50" height="1.5" fill="#b9e8cc"/>
<rect x="342.10" y="219.70" width="27.50" height="1.5" fill="#ebe982"/>
<rect x="369.60" y="219.70" width="27.50" height="1.5" fill="#ebe982"/>
<rect x="397.10" y="219.70" width="27.50" height="1.5" fill="#ebe982"/>
<rect x="424.60" y="219.70" width="27.50" height="1.5" fill="#9fecf6"/>
<rect x="452.10" y="219.70" width="27.50" height="1.5" fill="#b9e8cc"/>
<rect x="39.60" y="247.09" width="27.50" height="1.5" fill="#b9e8cc"/>
<rect x="67.10" y="247.09" width="27.50" height="1.5" fill="#b9e8cc"/>
<rect x="94.60" y="247.09" width="27.50" height="1.5" fill="#ebe982"/>
<rect x="122.10" y="247.09" width="27.50" height="1.5" fill="#ebe982"/>
<rect x="149.60" y="247.09" width="27.50" height="1.5" fill="#ebe982"/>
<rect x="177.10" y="247.09" width="27.50" height="1.5" fill="#ebe982"/>
<rect x="204.60" y="247.09" width="27.50" height="1.5" fill="#ebe982"/>
<rect x="232.10" y="247.09" width="27.50" height="1.5" fill="#ebe982"/>
<rect x="259.60" y="247.09" width="27.50" height="1.5" fill="#ebe982"/>
<rect x="287.10" y="247.09" width="27.50" height="1.5" fill="#b9e8cc"/>
<rect x="314.60" y="247.09" width="27.50" height="1.5" fill="#9fecf6"/>
<rect x="342.10" y="247.09" width="27.50" height="1.5" fill="#ebe982"/>
<rect x="369.60" y="247.09" width="27.50" height="1.5" fill="#ebe982"/>
<rect x="397.10" y="247.09" width="27.50" height="1.5" fill="#b9e8cc"/>
<rect x="424.60" y="247.09" width="27.50" height="1.5" fill="#9fecf6"/>
<rect x="452.10" y="247.09" width="27.50" height="1.5" fill="#b9e8cc"/>
<rect x="39.60" y="274.49" width="27.50" height="1.5" fill="#ebe982"/>
<rect x="67.10" y="274.49" width="27.50" height="1.5" fill="#ebe982"/>
<rect x="94.60" y="274.49" width="27.50" height="1.5" fill="#ebe982"/>
<rect x="122.10" y="274.49" width="27.50" height="1.5" fill="#ebe982"/>
<rect x="149.60" y="274.49" width="27.50" height="1.5" fill="#b9e8cc"/>
<rect x="177.10" y="274.49" width="27.50" height="1.5" fill="#ebe982"/>
<rect x="204.60" y="274.49" width="27.50" height="1.5" fill="#ebe982"/>
<rect x="232.10" y="274.49" width="27.50" height="1.5" fill="#ebe982"/>
<rect x="259.60" y="274.49" width="27.50" height="1.5" fill="#ebe982"/>
<rect x="287.10" y="274.49" width="27.50" height="1.5" fill="#ebe982"/>
<rect x="314.60" y="274.49" width="27.50" height="1.5" fill="#9fecf6"/>
<rect x="342.10" y="274.49" width="27.50" height="1.5" fill="#b9e8cc"/>
<rect x="369.60" y="274.49" width="27.50" height="1.5" fill="#b9e8cc"/>
<rect x="397.10" y="274.49" width="27.50" height="1.5" fill="#9fecf6"/>
<rect x="424.60" y="274.49" width="27.50" height="1.5" fill="#b9e8cc"/>
<rect x="452.10" y="274.49" width="27.50" height="1.5" fill="#ebe982"/>
<rect x="39.60" y="301.88" width="27.50" height="1.5" fill="#ebe982"/>
<rect x="67.10" y="301.88" width="27.50" height="1.5" fill="#ebe982"/>
<rect x="94.60" y="301.88" width="27.50" height="1.5" fill="#ebe982"/>
<rect x="122.10" y="301.88" width="27.50" height="1.5" fill="#ebe982"/>
<rect x="149.60" y="301.88" width="27.50" height="1.5" fill="#9fecf6"/>
<rect x="177.10" y="301.88" width="27.50" height="1.5" fill="#ebe982"/>
<rect x="204.60" y="301.88" width="27.50" height="1.5" fill="#ebe982"/>
<rect x="232.10" y="301.88" width="27.50" height="1.5" fill="#ebe982"/>
<rect x="259.60" y="301.88" width="27.50" height="1.5" fill="#ebe982"/>
<rect x="287.10" y="301.88" width="27.50" height="1.5" fill="#b9e8cc"/>
<rect x="314.60" y="301.88" width="27.50" height="1.5" fill="#9fecf6"/>
<rect x="342.10" y="301.88" width="27.50" height="1.5" fill="#9fecf6"/>
<rect x="369.60" y="301.88" width="27.50" height="1.5" fill="#b9e8cc"/>
<rect x="397.10" y="301.88" width="27.50" height="1.5" fill="#b9e8cc"/>
<rect x="424.60" y="301.88" width="27.50" height="1.5" fill="#ebe982"/>
<rect x="452.10" y="301.88" width="27.50" height="1.5" fill="#ebe982"/>
<rect x="39.60" y="329.28" width="27.50" height="1.5" fill="#b9e8cc"/>
<rect x="67.10" y="329.28" width="27.50" height="1.5" fill="#b9e8cc"/>
<rect x="94.60" y="329.28" width="27.50" height="1.5" fill="#ebe982"/>
<rect x="122.10" y="329.28" width="27.50" height="1.5" fill="#b9e8cc"/>
<rect x="149.60" y="329.28" width="27.50" height="1.5" fill="#9fecf6"/>
<rect x="177.10" y="329.28" width="27.50" height="1.5" fill="#ebe982"/>
<rect x="204.60" y="329.28" width="27.50" height="1.5" fill="#ebe982"/>
<rect x="232.10" y="329.28" width="27.50" height="1.5" fill="#ebe982"/>
<rect x="259.60" y="329.28" width="27.50" height="1.5" fill="#ebe982"/>
<rect x="287.10" y="329.28" width="27.50" height="1.5" fill="#9fecf6"/>
<rect x="314.60" y="329.28" width="27.50" height="1.5" fill="#9fecf6"/>
<rect x="342.10" y="329.28" width="27.50" height="1.5" fill="#9fecf6"/>
<rect x="369.60" y="329.28" width="27.50" height="1.5" fill="#ebe982"/>
<rect x="397.10" y="329.28" width="27.50" height="1.5" fill="#ebe982"/>
<rect x="424.60" y="329.28" width="27.50" height="1.5" fill="#ebe982"/>
<rect x="452.10" y="329.28" width="27.50" height="1.5" fill="#ebe982"/>
<rect x="39.60" y="356.67" width="27.50" height="1.5" fill="#9fecf6"/>
<rect x="67.10" y="356.67" width="27.50" height="1.5" fill="#b9e8cc"/>
<rect x="94.60" y="356.67" width="27.50" height="1.5" fill="#ebe982"/>
<rect x="122.10" y="356.67" width="27.50" height="1.5" fill="#b9e8cc"/>
<rect x="149.60" y="356.67" width="27.50" height="1.5" fill="#9fecf6"/>
<rect x="177.10" y="356.67" width="27.50" height="1.5" fill="#ebe982"/>
<rect x="204.60" y="356.67" width="27.50" height="1.5" fill="#ebe982"/>
<rect x="232.10" y="356.67" width="27.50" height="1.5" fill="#ebe982"/>
<rect x="259.60" y="356.67" width="27.50" height="1.5" fill="#b9e8cc"/>
<rect x="287.10" y="356.67" width="27.50" height="1.5" fill="#9fecf6"/>
<rect x="314.60" y="356.67" width="27.50" height="1.5" fill="#b9e8cc"/>
<rect x="342.10" y="356.67" width="27.50" height="1.5" fill="#b9e8cc"/>
<rect x="369.60" y="356.67" width="27.50" height="1.5" fill="#ebe982"/>
<rect x="397.10" y="356.67" width="27.50" height="1.5" fill="#ebe982"/>
<rect x="424.60" y="356.67" width="27.50" height="1.5" fill="#ebe982"/>
<rect x="452.10" y="356.67" width="27.50" height="1.5" fill="#ebe982"/>
<rect x="39.60" y="384.06" width="27.50" height="1.5" fill="#9fecf6"/>
<rect x="67.10" y="384.06" width="27.50" height="1.5" fill="#b9e8cc"/>
<rect x="94.60" y="384.06" width="27.50" height="1.5" fill="#b9e8cc"/>
<rect x="122.10" y="384.06" width="27.50" height="1.5" fill="#b9e8cc"/>
<rect x="149.60" y="384.06" width="27.50" height="1.5" fill="#9fecf6"/>
<rect x="177.10" y="384.06" width="27.50" height="1.5" fill="#b9e8cc"/>
<rect x="204.60" y="384.06" width="27.50" height="1.5" fill="#ebe982"/>
<rect x="232.10" y="384.06" width="27.50" height="1.5" fill="#ebe982"/>
<rect x="259.60" y="384.06" width="27.50" height="1.5" fill="#b9e8cc"/>
<rect x="287.10" y="384.06" width="27.50" height="1.5" fill="#b9e8cc"/>
<rect x="314.60" y="384.06" width="27.50" height="1.5" fill="#ebe982"/>
<rect x="342.10" y="384.06" width="27.50" height="1.5" fill="#b9e8cc"/>
<rect x="369.60" y="384.06" width="27.50" height="1.5" fill="#b9e8cc"/>
<rect x="397.10" y="384.06" width="27.50" height="1.5" fill="#b9e8cc"/>
<rect x="424.60" y="384.06" width="27.50" height="1.5" fill="#b9e8cc"/>
<rect x="452.10" y="384.06" width="27.50" height="1.5" fill="#ebe982"/>
<rect x="39.60" y="411.46" width="27.50" height="1.5" fill="#b9e8cc"/>
<rect x="67.10" y="411.46" width="27.50" height="1.5" fill="#b9e8cc"/>
<rect x="94.60" y="411.46" width="27.50" height="1.5" fill="#9fecf6"/>
<rect x="122.10" y="411.46" width="27.50" height="1.5" fill="#9fecf6"/>
<rect x="149.60" y="411.46" width="27.50" height="1.5" fill="#9fecf6"/>
<rect x="177.10" y="411.46" width="27.50" height="1.5" fill="#b9e8cc"/>
<rect x="204.60" y="411.46" width="27.50" height="1.5" fill="#ebe982"/>
<rect x="232.10" y="411.46" width="27.50" height="1.5" fill="#ebe982"/>
<rect x="259.60" y="411.46" width="27.50" height="1.5" fill="#ebe982"/>
<rect x="287.10" y="411.46" width="27.50" height="1.5" fill="#ebe982"/>
<rect x="314.60" y="411.46" width="27.50" height="1.5" fill="#ebe982"/>
<rect x="342.10" y="411.46" width="27.50" height="1.5" fill="#b9e8cc"/>
<rect x="369.60" y="411.46" width="27.50" height="1.5" fill="#b9e8cc"/>
<rect x="397.10" y="411.46" width="27.50" height="1.5" fill="#b9e8cc"/>
<rect x="424.60" y="411.46" width="27.50" height="1.5" fill="#b9e8cc"/>
<rect x="452.10" y="411.46" width="27.50" height="1.5" fill="#ebe982"/>
<rect x="37.60" y="0" width="2.7" height="440.50" fill="#e4e2a6"/>
<rect x="478.80" y="0" width="1.7" height="440.50" fill="#e4e2a6"/>
<rect x="37.60" y="0" width="442.90" height="2.1" fill="#e4e2a6"/>
<rect x="37.60" y="438.80" width="442.90" height="1.7" fill="#e4e2a6"/>
</g>
<!-- axes arrows -->
<g fill="#151515" stroke="none">
<rect x="33.1" y="312" width="5.3" height="129.4"/>
<rect x="33.1" y="436.3" width="132" height="5.1"/>
<path d="M35.7,285.6 L50.2,319.5 Q42.5,314.6 35.7,314.8 Q29,314.6 20.8,319.2 Z"/>
<path d="M194.5,438.9 L160,453.5 Q164.6,446 164.3,438.9 Q164.6,432 160,424.4 Z"/>
</g>
<text class="sans" x="-0.8" y="305.3" font-size="27.3" fill="#111" stroke="#111" stroke-width="0.45">x</text>
<text class="sans" x="181.2" y="477.8" font-size="27.3" fill="#111" stroke="#111" stroke-width="0.45">y</text>
<text class="serif" x="241.3" y="541.3" font-size="39" text-anchor="middle" fill="#111" stroke="#111" stroke-width="0.3">(a)</text>
<text class="serif" x="1059" y="541.5" font-size="39" text-anchor="middle" fill="#111" stroke="#111" stroke-width="0.3">(b)</text>

<!-- chart -->
<rect x="671.5" y="34.5" width="814.0" height="379.0" fill="#fff" stroke="#2e2e2e" stroke-width="1"/>
<g stroke="#2e2e2e" stroke-width="1">
<line x1="807.5" y1="413.5" x2="807.5" y2="405.0"/>
<line x1="807.5" y1="34.5" x2="807.5" y2="43.0"/>
<line x1="942.5" y1="413.5" x2="942.5" y2="405.0"/>
<line x1="942.5" y1="34.5" x2="942.5" y2="43.0"/>
<line x1="1078.5" y1="413.5" x2="1078.5" y2="405.0"/>
<line x1="1078.5" y1="34.5" x2="1078.5" y2="43.0"/>
<line x1="1214.5" y1="413.5" x2="1214.5" y2="405.0"/>
<line x1="1214.5" y1="34.5" x2="1214.5" y2="43.0"/>
<line x1="1349.5" y1="413.5" x2="1349.5" y2="405.0"/>
<line x1="1349.5" y1="34.5" x2="1349.5" y2="43.0"/>
<line x1="671.5" y1="129.5" x2="680.0" y2="129.5"/>
<line x1="1485.5" y1="129.5" x2="1477.0" y2="129.5"/>
<line x1="671.5" y1="224.5" x2="680.0" y2="224.5"/>
<line x1="1485.5" y1="224.5" x2="1477.0" y2="224.5"/>
<line x1="671.5" y1="318.5" x2="680.0" y2="318.5"/>
<line x1="1485.5" y1="318.5" x2="1477.0" y2="318.5"/>
</g>
<path d="M671.4,230.2 L672.8,227.0 L674.1,223.1 L675.2,220.8 L676.6,216.8 L678.2,214.0 L679.4,211.0 L680.7,207.8 L681.9,206.2 L683.2,203.6 L684.6,200.2 L685.9,198.1 L687.0,194.2 L688.5,191.2 L689.8,187.9 L691.1,184.2 L692.3,180.4 L693.6,176.8 L695.0,172.1 L696.1,168.5 L697.7,165.1 L698.8,161.2 L700.1,157.5 L701.3,154.1 L702.7,150.9 L704.1,147.5 L705.4,144.3 L706.7,140.0 L708.0,137.8 L709.3,134.1 L710.6,130.3 L711.9,127.5 L713.0,123.7 L714.5,121.7 L715.6,118.6 L717.0,115.0 L718.2,112.9 L719.7,109.2 L720.9,106.4 L722.3,104.1 L723.6,102.1 L724.8,99.4 L726.0,95.3 L727.4,92.1 L728.6,89.2 L730.0,85.4 L731.1,82.9 L732.5,79.9 L734.0,76.1 L735.2,73.4 L736.6,70.6 L737.8,67.9 L739.3,65.2 L740.4,62.9 L741.6,60.0 L743.2,58.0 L744.3,55.3 L745.6,54.1 L746.7,52.5 L748.2,50.3 L749.5,49.4 L750.9,47.9 L752.2,46.9 L753.2,44.7 L754.8,44.4 L755.9,42.6 L757.3,41.3 L758.6,40.4 L759.9,39.9 L761.1,38.9 L762.6,37.8 L763.8,38.0 L765.0,36.8 L766.5,36.4 L767.6,36.2 L769.1,35.5 L770.2,35.5 L771.7,35.4 L773.0,34.9 L774.1,35.4 L775.6,35.1 L776.7,34.6 L778.1,34.7 L779.5,35.5 L780.6,34.9 L782.1,35.3 L783.4,35.0 L784.5,35.0 L786.0,35.0 L787.1,35.2 L788.5,35.2 L790.0,34.9 L790.9,35.9 L792.5,36.0 L793.7,35.9 L795.2,35.1 L796.4,35.8 L797.7,35.4 L798.8,35.2 L800.1,34.9 L801.5,35.2 L802.9,34.9 L804.2,35.7 L805.6,36.0 L806.8,35.6 L807.8,35.8 L809.2,35.3 L810.7,35.6 L811.9,36.1 L813.2,35.4 L814.4,36.0 L815.8,36.0 L817.0,35.3 L818.4,36.0 L819.6,36.0 L821.2,36.1 L822.4,35.1 L823.6,36.2 L824.7,35.5 L826.1,35.8 L827.5,35.8 L828.9,35.2 L829.9,35.4 L831.3,35.3 L832.9,36.3 L833.9,35.9 L835.2,35.7 L836.5,36.1 L837.9,35.8 L839.1,35.8 L840.4,36.1 L841.9,35.9 L842.9,35.7 L844.4,36.2 L845.8,36.0 L847.1,36.3 L848.3,36.0 L849.6,36.4 L850.9,36.4 L852.2,35.9 L853.5,36.4 L854.6,36.1 L856.1,36.7 L857.6,36.1 L858.8,36.6 L859.9,36.2 L861.2,36.7 L862.7,36.8 L864.0,36.5 L865.3,36.4 L866.4,36.4 L867.6,35.9 L869.2,35.8 L870.3,35.9 L871.8,36.0 L872.8,36.8 L874.2,36.8 L875.7,36.8 L877.1,36.4 L878.3,35.8 L879.6,36.3 L880.9,35.9 L882.2,36.8 L883.2,36.1 L884.7,36.7 L885.9,35.9 L887.2,36.4 L888.7,36.1 L889.9,36.0 L891.1,35.9 L892.3,35.8 L894.0,35.5 L895.2,35.1 L896.5,35.6 L897.8,35.2 L899.0,35.2 L900.4,34.6 L901.5,35.2 L903.0,34.9 L904.2,35.1 L905.4,34.6 L906.7,34.9 L908.0,34.5 L909.5,35.3 L910.6,35.0 L912.0,35.2 L913.3,34.5 L914.5,34.2 L915.9,34.6 L917.1,34.6 L918.4,35.0 L919.7,35.3 L921.1,34.8 L922.4,35.1 L923.8,34.8 L925.0,35.0 L926.4,34.6 L927.7,35.3 L928.9,34.4 L930.1,35.0 L931.6,35.2 L932.9,34.4 L934.0,34.4 L935.3,34.9 L936.8,35.1 L937.9,35.1 L939.2,34.6 L940.7,34.1 L941.8,35.0 L943.1,34.5 L944.5,34.8 L945.6,34.4 L947.1,34.6 L948.3,34.7 L949.9,34.5 L951.0,34.2 L952.2,34.8 L953.5,35.1 L955.0,34.2 L956.4,34.6 L957.6,35.0 L958.7,35.0 L960.2,35.2 L961.3,35.1 L962.9,35.1 L964.0,34.5 L965.3,34.8 L966.7,35.3 L967.9,34.7 L969.3,35.3 L970.4,35.7 L971.9,34.9 L973.3,35.0 L974.3,35.7 L975.7,35.6 L977.1,35.6 L978.2,35.3 L979.4,36.0 L981.0,35.9 L982.3,35.8 L983.4,35.9 L984.9,35.5 L986.1,35.9 L987.5,36.1 L988.6,36.2 L990.0,36.7 L991.2,36.9 L992.5,36.2 L993.8,36.1 L995.3,36.9 L996.4,36.3 L997.8,37.0 L999.2,37.1 L1000.4,36.4 L1001.7,36.5 L1003.0,37.0 L1004.2,36.6 L1005.7,36.4 L1007.0,37.5 L1008.4,36.9 L1009.5,37.1 L1010.8,37.6 L1012.2,36.9 L1013.5,37.1 L1014.7,37.4 L1015.8,37.5 L1017.4,37.2 L1018.6,37.2 L1019.8,37.3 L1021.0,37.3 L1022.6,37.2 L1023.8,37.9 L1025.2,36.9 L1026.5,37.5 L1027.5,37.2 L1028.9,36.9 L1030.3,37.9 L1031.5,37.8 L1033.0,37.0 L1034.3,37.6 L1035.7,37.7 L1036.9,37.3 L1038.2,38.0 L1039.5,37.4 L1040.8,37.5 L1041.9,37.0 L1043.1,37.2 L1044.5,37.5 L1046.0,37.6 L1047.2,37.7 L1048.4,37.5 L1049.9,37.5 L1051.0,38.1 L1052.5,37.5 L1053.7,37.7 L1055.0,37.3 L1056.1,37.3 L1057.7,37.2 L1058.9,37.3 L1060.1,37.3 L1061.5,37.3 L1062.6,37.3 L1064.0,37.7 L1065.2,37.2 L1066.7,37.7 L1068.1,37.2 L1069.3,37.7 L1070.4,38.3 L1071.8,37.3 L1073.2,37.4 L1074.5,37.6 L1075.7,37.3 L1077.2,37.6 L1078.5,37.8 L1079.9,37.6 L1080.9,37.6 L1082.4,38.0 L1083.5,37.4 L1085.0,38.4 L1086.2,37.3 L1087.3,37.4 L1088.7,37.3 L1089.9,38.1 L1091.5,37.5 L1092.9,37.8 L1094.1,38.4 L1095.5,37.3 L1096.5,38.0 L1098.1,37.4 L1099.1,38.3 L1100.4,37.8 L1101.7,38.1 L1103.3,37.5 L1104.5,38.2 L1105.8,38.0 L1107.2,37.7 L1108.3,37.6 L1109.7,37.9 L1110.8,37.5 L1112.3,38.0 L1113.6,37.7 L1114.8,37.4 L1116.2,37.3 L1117.4,38.1 L1118.8,37.3 L1119.9,38.2 L1121.4,38.2 L1122.7,37.7 L1124.0,38.1 L1125.1,37.6 L1126.3,37.7 L1128.0,37.3 L1129.1,37.3 L1130.2,38.0 L1131.6,37.3 L1132.9,38.0 L1134.3,37.3 L1135.5,38.4 L1136.8,38.0 L1138.2,38.3 L1139.5,38.3 L1140.8,37.7 L1142.0,37.6 L1143.5,37.7 L1144.5,38.8 L1145.9,38.9 L1147.2,38.5 L1148.5,39.1 L1149.9,39.0 L1151.3,39.4 L1152.4,39.2 L1153.8,38.8 L1155.2,39.5 L1156.5,39.2 L1157.7,39.7 L1159.1,39.3 L1160.2,39.9 L1161.4,40.1 L1163.0,40.0 L1164.3,40.3 L1165.4,40.1 L1167.0,40.1 L1168.1,39.9 L1169.3,40.0 L1170.9,40.8 L1172.1,41.2 L1173.3,41.2 L1174.6,40.7 L1176.1,41.4 L1177.4,41.1 L1178.6,41.1 L1180.0,41.9 L1181.0,42.0 L1182.3,41.2 L1183.8,41.6 L1185.0,42.2 L1186.1,42.5 L1187.5,42.3 L1188.8,42.9 L1190.3,42.5 L1191.4,42.7 L1192.8,42.7 L1193.6,43.6 L1198.0,44.2 L1200.5,45.5 L1202.5,45.5 L1205.0,45.6 L1207.9,44.6 L1211.0,46.0 L1214.0,47.9 L1215.6,48.8 L1217.6,48.3 L1219.9,48.8 L1223.0,50.8 L1226.5,52.0 L1230.0,52.6 L1233.1,53.9 L1236.0,56.2 L1239.6,57.5 L1241.0,58.6 L1243.0,59.8 L1246.2,61.3 L1249.0,63.6 L1252.7,64.6 L1254.4,66.4 L1256.0,68.0 L1259.3,70.1 L1262.0,71.2 L1263.7,73.0 L1265.8,73.9 L1267.0,75.1 L1268.9,76.5 L1271.0,79.0 L1272.4,82.0 L1272.8,84.1 L1276.0,85.5 L1277.9,87.0 L1280.4,89.2 L1282.1,90.9 L1283.0,94.0 L1285.5,96.9 L1287.5,96.9 L1290.6,96.9 L1291.1,98.5 L1291.5,101.0 L1292.7,104.5 L1295.0,104.5 L1297.0,107.1 L1297.0,108.6 L1298.2,111.0 L1299.5,113.5 L1301.6,114.7 L1303.0,116.0 L1305.1,118.3 L1305.9,119.8 L1306.8,121.2 L1305.9,123.2 L1306.5,125.7 L1306.2,128.0 L1307.0,130.0 L1306.8,132.0 L1307.4,134.9 L1308.0,136.4 L1308.5,139.0 L1310.5,138.0 L1312.3,141.5 L1312.0,143.7 L1313.0,146.0 L1314.1,149.2 L1316.0,150.0 L1317.4,153.0 L1318.0,155.6 L1318.8,158.1 L1318.6,160.0 L1318.9,162.4 L1319.9,165.8 L1320.9,168.8 L1321.2,171.0 L1321.6,173.5 L1322.1,174.8 L1322.5,177.2 L1322.1,178.7 L1322.8,182.0 L1323.3,183.6 L1323.0,186.3 L1323.3,188.0 L1322.9,190.0 L1322.9,190.0 L1323.9,203.2 L1324.6,216.4 L1326.2,217.0 L1327.7,242.8 L1328.8,269.2 L1329.5,309.5 L1332.2,247.0 L1333.7,329.0 L1334.9,295.7 L1335.8,269.2 L1337.1,242.8 L1339.5,216.4 L1341.3,210.0 L1341.3,210.0 L1342.5,184.7 L1344.0,170.6 L1345.2,158.6 L1346.5,149.3 L1347.9,141.6 L1349.2,134.8 L1350.3,129.5 L1351.7,124.8 L1353.1,120.4 L1354.3,115.1 L1355.6,111.3 L1356.9,106.9 L1358.3,103.7 L1359.4,100.3 L1360.8,97.7 L1362.2,96.2 L1363.4,93.8 L1364.8,92.4 L1366.0,91.8 L1367.2,90.2 L1368.7,90.0 L1369.8,88.7 L1371.1,87.9 L1372.4,88.2 L1373.7,87.0 L1375.0,86.6 L1376.4,87.0 L1377.8,86.8 L1379.1,86.1 L1380.2,87.1 L1381.5,86.6 L1382.9,86.8 L1384.2,86.9 L1385.4,88.2 L1386.7,88.5 L1388.0,89.0 L1389.5,89.1 L1390.6,89.0 L1392.1,89.6 L1393.2,90.8 L1394.7,90.5 L1396.0,91.6 L1397.2,91.7 L1398.5,93.2 L1399.7,93.0 L1401.0,93.6 L1402.4,95.1 L1403.6,95.0 L1405.1,96.6 L1406.4,96.6 L1407.6,98.1 L1408.9,98.6 L1410.1,98.6 L1411.5,99.9 L1412.9,100.3 L1414.1,100.7 L1415.4,101.2 L1416.8,101.4 L1418.0,102.7 L1419.4,102.5 L1420.7,103.7 L1421.8,103.8 L1423.1,104.2 L1424.6,105.2 L1425.9,105.6 L1427.0,107.0 L1428.5,107.8 L1429.8,108.0 L1431.1,108.2 L1432.3,109.3 L1433.5,110.1 L1434.8,110.7 L1436.2,111.1 L1437.5,112.0 L1438.9,112.9 L1440.2,113.3 L1441.3,114.0 L1442.6,113.6 L1444.0,114.7 L1445.3,115.0 L1446.5,115.6 L1447.9,115.3 L1449.2,115.8 L1450.6,115.4 L1451.8,115.5 L1453.0,115.4 L1454.5,116.0 L1455.6,116.4 L1457.0,117.0 L1458.3,116.6 L1459.6,117.7 L1460.9,117.9 L1462.3,117.6 L1463.4,117.9 L1464.8,117.9 L1466.1,118.5 L1467.4,117.8 L1468.6,118.1 L1470.0,117.9 L1471.2,118.1 L1472.5,117.9 L1473.9,118.7 L1475.2,118.5 L1476.6,118.4 L1477.9,117.8 L1479.2,117.2 L1480.5,117.2 L1481.7,117.4 L1482.9,116.3 L1484.4,116.3 L1484.9,115.5" fill="none" stroke="#3b4cc0" stroke-width="4.7" stroke-linejoin="round" stroke-linecap="round"/>
<path d="M671.5,240.7 L672.9,238.6 L674.0,235.8 L675.4,232.6 L676.7,229.6 L678.0,225.7 L679.5,223.0 L680.5,219.4 L682.0,216.7 L683.1,212.4 L684.5,209.8 L685.9,207.3 L687.0,204.1 L688.4,201.8 L689.6,198.3 L690.9,195.5 L692.1,192.5 L693.6,188.8 L694.8,185.1 L696.2,182.7 L697.5,179.1 L699.0,176.7 L700.1,173.3 L701.3,171.1 L702.6,167.7 L704.0,164.4 L705.4,161.9 L706.7,158.5 L707.8,154.6 L709.2,151.8 L710.4,149.3 L711.7,146.2 L713.2,142.4 L714.5,139.7 L715.6,136.4 L716.8,133.6 L718.3,130.7 L719.7,126.6 L720.9,123.9 L722.1,121.0 L723.4,118.9 L724.7,115.8 L726.0,113.8 L727.4,111.3 L728.8,108.8 L730.1,106.7 L731.2,104.3 L732.6,101.4 L733.9,98.8 L735.2,95.3 L736.6,93.2 L737.8,89.8 L739.0,87.0 L740.5,83.3 L741.8,81.3 L742.9,78.5 L744.3,75.0 L745.7,72.6 L747.0,70.4 L748.1,68.0 L749.6,65.9 L750.8,64.3 L752.1,62.0 L753.4,60.6 L754.6,57.9 L756.1,56.6 L757.2,55.2 L758.7,53.1 L760.1,51.8 L761.3,49.7 L762.3,48.8 L763.9,47.3 L765.1,46.4 L766.3,45.5 L767.7,44.1 L768.9,43.3 L770.2,42.5 L771.5,41.3 L772.8,40.4 L774.2,39.3 L775.4,39.0 L776.7,38.3 L778.0,37.3 L779.4,37.6 L780.8,36.7 L782.0,35.8 L783.2,35.7 L784.7,35.2 L786.0,35.4 L787.2,34.9 L788.7,34.7 L789.8,35.0 L791.0,34.7 L792.6,35.3 L793.8,35.4 L794.9,35.3 L796.4,34.8 L797.6,35.7 L798.8,35.5 L800.1,35.5 L801.4,35.4 L802.8,35.9 L804.2,35.6 L805.5,35.7 L806.8,35.6 L808.0,36.1 L809.3,35.7 L810.5,36.5 L811.8,36.8 L813.2,37.2 L814.6,37.1 L815.8,36.5 L817.1,37.5 L818.5,37.1 L819.6,38.1 L821.1,37.7 L822.4,37.5 L823.6,38.2 L824.9,37.9 L826.1,38.5 L827.6,38.1 L828.6,38.2 L830.2,38.7 L831.4,39.6 L832.7,38.9 L834.1,38.8 L835.2,39.7 L836.5,39.2 L837.9,39.7 L839.4,39.6 L840.6,40.1 L841.9,40.3 L843.2,40.3 L844.3,40.6 L845.8,40.6 L846.9,40.8 L848.2,40.8 L849.6,41.1 L850.9,40.9 L852.0,40.7 L853.4,40.9 L854.8,41.0 L856.2,41.5 L857.5,41.6 L858.7,41.3 L859.9,40.9 L861.4,41.4 L862.5,41.9 L863.9,41.6 L865.2,41.1 L866.7,41.1 L867.8,42.0 L869.0,41.5 L870.4,41.2 L871.8,41.3 L872.8,41.4 L874.1,41.6 L875.7,41.8 L876.8,41.6 L878.1,41.3 L879.4,41.1 L880.7,41.4 L882.0,41.8 L883.2,41.8 L884.6,40.8 L886.1,41.3 L887.4,41.2 L888.6,40.7 L890.0,41.2 L891.4,40.6 L892.4,41.3 L893.9,41.0 L895.2,41.1 L896.4,41.0 L897.7,40.4 L898.9,41.2 L900.2,40.8 L901.5,40.7 L902.9,41.0 L904.4,40.7 L905.4,40.5 L906.7,40.3 L908.1,40.7 L909.3,40.2 L910.6,40.1 L912.0,40.1 L913.4,40.4 L914.5,40.2 L915.7,40.5 L917.3,40.0 L918.6,39.8 L919.7,39.7 L921.0,40.1 L922.4,40.1 L923.6,40.1 L925.0,39.6 L926.3,39.6 L927.5,39.5 L928.9,39.8 L930.3,39.1 L931.6,39.7 L932.9,39.9 L934.0,39.6 L935.5,38.8 L936.7,39.7 L937.9,39.5 L939.4,39.0 L940.5,38.7 L942.0,38.9 L943.1,38.8 L944.6,38.6 L945.6,39.3 L947.0,38.6 L948.6,38.4 L949.6,39.1 L950.9,38.3 L952.4,38.2 L953.7,38.3 L954.8,38.1 L956.2,38.4 L957.5,38.3 L958.7,38.6 L960.2,38.5 L961.5,37.7 L962.6,37.8 L963.9,38.5 L965.4,38.4 L966.6,37.5 L967.9,37.3 L969.3,37.5 L970.4,38.2 L971.7,38.1 L973.0,37.7 L974.3,37.9 L975.7,37.3 L977.1,37.5 L978.2,36.9 L979.6,36.7 L981.0,37.0 L982.1,36.9 L983.4,36.8 L984.8,36.9 L986.0,36.7 L987.4,37.1 L988.7,37.1 L990.0,36.3 L991.2,37.0 L992.6,36.5 L993.9,36.9 L995.2,36.3 L996.5,35.9 L997.8,36.4 L999.1,36.3 L1000.4,36.5 L1001.6,36.8 L1002.9,36.6 L1004.2,36.5 L1005.5,35.7 L1006.9,36.5 L1008.3,36.5 L1009.7,35.6 L1010.8,35.6 L1012.2,35.9 L1013.5,36.3 L1014.9,36.2 L1016.1,36.0 L1017.2,36.4 L1018.5,35.5 L1020.0,35.7 L1021.3,35.4 L1022.4,36.1 L1023.6,35.9 L1025.2,35.5 L1026.5,36.1 L1027.7,36.1 L1029.1,35.3 L1030.2,35.9 L1031.8,35.5 L1032.9,35.4 L1034.3,35.8 L1035.5,36.0 L1036.7,36.1 L1038.2,36.2 L1039.3,35.6 L1040.6,36.3 L1042.0,35.7 L1043.3,36.1 L1044.5,35.7 L1046.0,36.2 L1047.1,35.4 L1048.6,36.1 L1049.8,35.8 L1051.3,35.8 L1052.3,35.4 L1053.7,36.0 L1055.0,36.4 L1056.3,35.8 L1057.7,36.0 L1058.9,35.9 L1060.2,35.9 L1061.6,35.6 L1062.9,35.7 L1064.2,35.4 L1065.4,35.8 L1066.8,35.6 L1067.9,35.5 L1069.3,36.0 L1070.4,35.6 L1071.8,36.4 L1073.2,36.0 L1074.4,36.1 L1075.9,36.1 L1076.9,35.9 L1078.4,35.5 L1079.8,35.8 L1080.9,36.1 L1082.3,36.0 L1083.7,36.0 L1084.8,35.6 L1086.2,35.9 L1087.5,35.9 L1088.6,35.6 L1090.0,35.6 L1091.5,36.2 L1092.6,36.3 L1094.0,35.6 L1095.4,35.8 L1096.8,35.8 L1097.8,35.9 L1099.3,36.5 L1100.5,35.8 L1101.8,36.4 L1103.0,36.7 L1104.5,36.7 L1105.8,36.4 L1107.2,36.0 L1108.2,35.9 L1109.5,36.7 L1110.8,36.6 L1112.2,36.8 L1113.6,36.6 L1114.9,35.9 L1116.0,36.3 L1117.4,36.7 L1118.8,36.8 L1120.1,36.7 L1121.3,36.5 L1122.7,36.9 L1123.9,36.4 L1125.2,36.3 L1126.6,36.1 L1127.8,36.6 L1129.0,36.7 L1130.4,37.2 L1131.8,36.8 L1133.1,37.2 L1134.2,37.1 L1135.7,37.3 L1137.0,36.7 L1138.1,37.0 L1139.4,37.1 L1140.8,37.2 L1142.1,36.7 L1143.5,37.1 L1144.7,37.0 L1146.0,37.1 L1147.3,36.8 L1148.8,37.4 L1150.0,36.8 L1151.1,37.3 L1152.6,37.3 L1153.7,37.4 L1155.1,37.0 L1156.4,37.1 L1157.7,37.5 L1159.2,36.8 L1160.3,37.7 L1161.7,37.3 L1163.0,36.8 L1164.3,37.4 L1165.5,37.1 L1166.8,36.9 L1168.1,37.1 L1169.5,37.7 L1170.7,37.7 L1172.0,37.5 L1173.2,37.9 L1174.7,37.8 L1175.8,37.9 L1177.0,37.6 L1178.5,37.1 L1179.8,38.0 L1181.1,37.4 L1182.5,37.5 L1183.8,37.6 L1184.9,38.2 L1186.2,37.5 L1187.7,37.3 L1188.9,38.2 L1190.2,37.6 L1191.6,38.2 L1192.8,38.0 L1194.0,37.8 L1195.6,38.4 L1196.5,37.6 L1197.9,38.3 L1199.2,37.6 L1200.7,37.6 L1202.1,37.9 L1203.3,38.4 L1204.4,38.3 L1205.8,37.7 L1207.0,38.3 L1208.4,37.8 L1209.8,37.7 L1211.0,37.6 L1212.3,38.5 L1213.6,37.7 L1214.8,38.3 L1216.1,38.5 L1217.4,38.5 L1218.8,38.5 L1220.1,37.7 L1221.3,38.3 L1222.5,37.7 L1224.1,38.6 L1225.4,38.5 L1226.6,38.6 L1228.0,38.2 L1229.2,37.6 L1230.4,37.9 L1231.8,37.7 L1233.3,38.2 L1234.5,38.6 L1235.6,38.6 L1237.2,37.9 L1238.2,38.5 L1239.7,38.5 L1240.9,38.3 L1242.1,37.9 L1243.5,38.4 L1244.7,38.6 L1245.9,38.7 L1247.3,38.5 L1248.8,38.6 L1250.0,38.4 L1251.2,38.5 L1252.5,38.6 L1253.9,37.6 L1255.3,37.9 L1256.4,37.9 L1257.6,37.9 L1259.2,38.7 L1260.4,38.5 L1261.8,38.3 L1263.0,37.8 L1264.2,38.2 L1265.5,38.4 L1266.8,38.2 L1268.2,38.2 L1269.4,37.8 L1270.9,37.8 L1272.2,38.6 L1273.4,38.6 L1274.7,38.6 L1276.0,38.3 L1277.4,37.7 L1278.6,38.1 L1279.9,38.2 L1281.3,38.4 L1282.6,37.6 L1283.9,38.2 L1285.2,37.5 L1286.3,38.6 L1287.7,38.3 L1289.0,37.9 L1290.3,38.1 L1291.8,38.1 L1293.0,37.8 L1294.3,38.1 L1295.6,38.4 L1296.7,38.5 L1298.1,37.7 L1299.4,37.5 L1300.6,38.4 L1302.1,38.4 L1303.2,37.6 L1304.6,38.0 L1306.0,37.8 L1307.3,38.1 L1308.4,38.3 L1309.7,38.1 L1311.0,37.5 L1312.4,38.0 L1313.7,37.8 L1315.1,38.3 L1316.2,37.4 L1317.8,37.9 L1318.8,37.6 L1320.3,37.6 L1321.5,38.2 L1322.8,38.1 L1324.2,38.3 L1325.4,38.1 L1326.6,38.1 L1328.0,38.1 L1329.3,38.3 L1330.5,38.2 L1332.1,37.5 L1333.1,38.5 L1334.4,38.4 L1335.8,37.5 L1337.1,37.5 L1338.5,37.8 L1339.8,38.5 L1340.9,37.9 L1342.2,38.3 L1343.5,37.6 L1344.8,38.5 L1346.1,37.9 L1347.5,38.1 L1348.8,38.6 L1350.0,38.1 L1351.5,37.8 L1352.6,38.5 L1353.9,38.6 L1355.4,38.0 L1356.5,37.8 L1358.0,38.2 L1359.1,37.9 L1360.4,38.7 L1361.7,38.4 L1363.1,38.4 L1364.4,38.3 L1365.6,38.8 L1367.1,38.5 L1368.2,39.0 L1369.5,38.2 L1370.9,39.0 L1372.2,38.2 L1373.7,38.3 L1374.7,39.3 L1376.2,39.1 L1377.3,39.3 L1378.7,38.4 L1380.1,39.5 L1381.2,39.0 L1382.7,38.9 L1383.8,39.5 L1385.2,39.8 L1386.6,39.7 L1387.9,39.0 L1389.2,39.5 L1390.4,39.5 L1391.6,39.2 L1393.1,39.5 L1394.2,40.2 L1395.6,40.0 L1396.8,39.5 L1398.1,40.3 L1399.4,40.5 L1400.7,40.7 L1402.0,40.3 L1403.3,40.1 L1404.7,40.5 L1406.0,40.4 L1407.2,40.7 L1408.7,40.5 L1409.9,41.5 L1411.2,40.9 L1412.7,40.8 L1413.7,40.7 L1415.1,41.7 L1416.3,41.1 L1417.8,41.0 L1418.8,41.9 L1420.2,42.0 L1421.5,42.4 L1423.0,42.6 L1424.1,43.2 L1425.6,43.0 L1426.7,43.8 L1428.1,44.1 L1429.5,44.5 L1430.8,44.9 L1431.9,45.0 L1433.2,45.5 L1434.7,46.1 L1435.9,47.1 L1437.4,47.4 L1438.4,47.4 L1439.8,47.9 L1441.0,48.6 L1442.3,50.0 L1443.7,50.7 L1445.0,52.6 L1446.4,54.2 L1447.7,56.5 L1448.8,58.3 L1450.3,58.7 L1451.3,60.2 L1452.8,62.1 L1454.0,64.9 L1455.3,68.1 L1456.7,71.1 L1458.1,75.1 L1459.2,79.1 L1460.5,83.6 L1462.0,88.8 L1463.3,93.0 L1464.4,98.9 L1465.8,105.7 L1466.9,113.1 L1468.4,119.3 L1469.8,122.9 L1471.0,130.8 L1472.3,141.1 L1473.5,151.0 L1474.9,160.7 L1476.1,171.8 L1477.5,181.6 L1478.7,192.5 L1480.1,205.8 L1481.3,224.2 L1482.7,242.3 L1483.9,264.7 L1484.9,298.3" fill="none" stroke="#b40426" stroke-width="4.7" stroke-linejoin="round" stroke-linecap="round"/>
<g class="sans b" font-size="28" fill="#262626">
<text transform="translate(671.5,451.2) scale(1,1.05)" text-anchor="middle">5</text><text transform="translate(807.2,451.2) scale(1,1.05)" text-anchor="middle">10</text><text transform="translate(942.8,451.2) scale(1,1.05)" text-anchor="middle">15</text><text transform="translate(1078.5,451.2) scale(1,1.05)" text-anchor="middle">20</text><text transform="translate(1214.2,451.2) scale(1,1.05)" text-anchor="middle">25</text><text transform="translate(1349.8,451.2) scale(1,1.05)" text-anchor="middle">30</text><text transform="translate(1485.5,451.2) scale(1,1.05)" text-anchor="middle">35</text>
<text transform="translate(663,46.2) scale(1,1.05)" text-anchor="end">0</text><text transform="translate(663,140.9) scale(1,1.05)" text-anchor="end">-10</text><text transform="translate(663,235.7) scale(1,1.05)" text-anchor="end">-20</text><text transform="translate(663,330.4) scale(1,1.05)" text-anchor="end">-30</text><text transform="translate(663,425.2) scale(1,1.05)" text-anchor="end">-40</text>
</g>
<text class="sans b" x="951.8" y="491.3" font-size="30.6" textLength="251" lengthAdjust="spacingAndGlyphs" fill="#262626">Frequency (GHz)</text>
<text class="sans b" font-size="30.7" fill="#262626" stroke="#262626" stroke-width="0.35" text-anchor="start" transform="translate(597.2,294) rotate(-90)">|R<tspan font-size="25.5" dy="17">yx</tspan><tspan dy="-17">| (dB)</tspan></text>
<!-- legend -->
<rect x="1309.5" y="333.5" width="170" height="71" fill="#fff" stroke="#2e2e2e" stroke-width="1"/>
<line x1="1316.3" y1="352" x2="1348.8" y2="352" stroke="#3b4cc0" stroke-width="4"/>
<line x1="1316.3" y1="386" x2="1348.8" y2="386" stroke="#b40426" stroke-width="4"/>
<text class="sans b" x="1349.7" y="363" font-size="26.3" fill="#000">Optimized</text>
<text class="sans b" x="1349.7" y="396.7" font-size="26.3" fill="#000">Refined</text>
</svg>
</body></html>
